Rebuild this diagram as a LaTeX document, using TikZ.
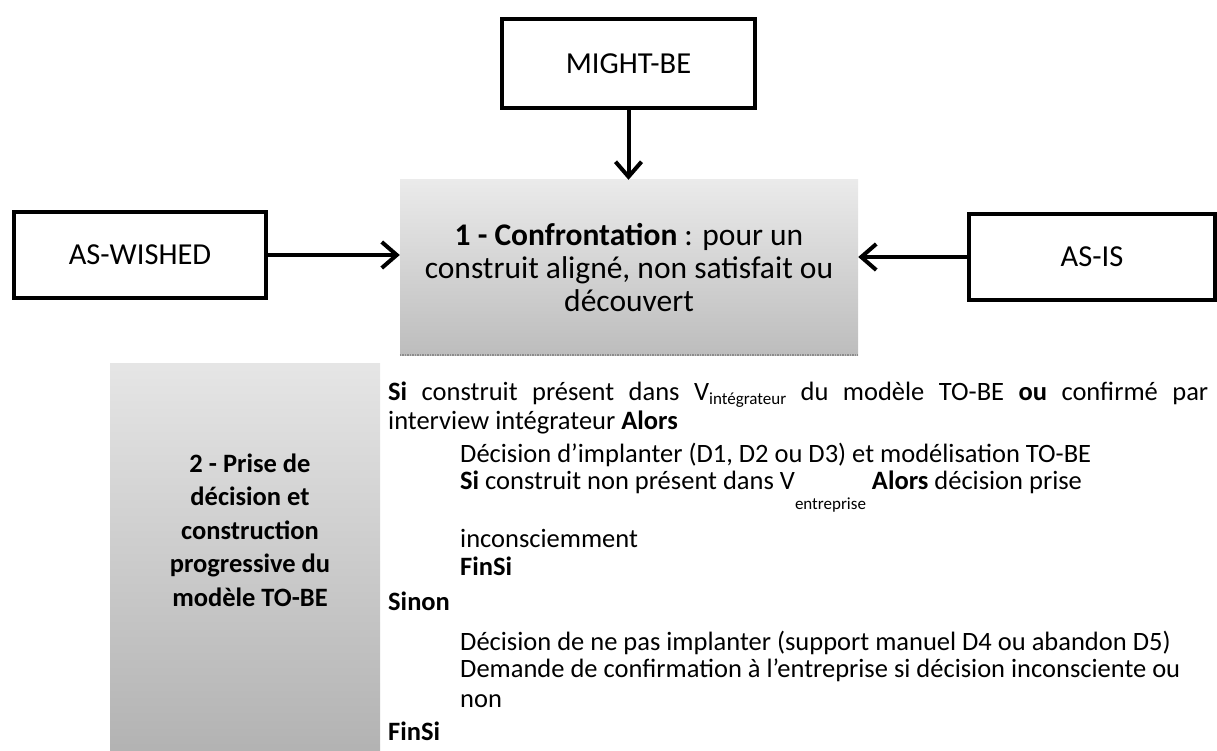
\documentclass[tikz,border=0pt]{standalone}
\usepackage{fontspec}
\setmainfont{Carlito}
\usetikzlibrary{arrows.meta}

\begin{document}
\begin{tikzpicture}[x=1pt, y=-1pt,
            view/.style = {draw, line width=4pt, inner sep=0pt, font=\fontsize{30.5}{33}\selectfont},
            stage/.style = {top color=black!8, bottom color=black!26, inner sep=0pt},
            link/.style = {line width=4pt, -{Straight Barb[length=15pt, width=26pt]}},
            algo/.style = {anchor=base west, inner sep=0pt, font=\fontsize{26.5}{30}\selectfont}]
            \useasboundingbox (0,0) rectangle (1217,751);

            \node[view, minimum width=253pt, minimum height=89pt] (MB) at (628.5,63.5) {MIGHT-BE};
            \node[view, minimum width=252pt, minimum height=86pt] (AW) at (140,255) {AS-WISHED};
            \node[view, minimum width=246pt, minimum height=86pt] (AI) at (1092,257) {AS-IS};

            \node[stage, minimum width=458pt, minimum height=175pt, align=center,
                  font=\fontsize{31.5}{33}\selectfont] (C1) at (629,267.5)
                  {\textbf{1 - Confrontation} : pour un\\construit aligné, non satisfait ou\\découvert};
            \draw[black!45, densely dotted, line width=1.5pt] (C1.south west) -- (C1.south east);

            \node[stage, top color=black!10, bottom color=black!30, minimum width=270pt, minimum height=388pt] (C2) at (245,557) {};
            \node[align=center, font=\bfseries\fontsize{26.5}{33.5}\selectfont] (C2t) at (250,530)
                  {2 - Prise de\\décision et\\construction\\progressive du\\modèle TO-BE};

            \path[link] (MB) edge (MB |- C1.north);
            \path[link] (AW) edge (AW -| C1.west);
            \path[link] (AI) edge (AI -| C1.east);

            \node[algo] (L1) at (388,400) {\makebox[820pt][s]{\textbf{Si} construit présent dans V\raisebox{-4pt}{\fontsize{17}{17}\selectfont intégrateur} du modèle TO-BE \textbf{ou} confirmé par}};
            \node[algo] (L2) at (388,429) {interview intégrateur \textbf{Alors}};
            \node[algo] (L3) at (460,462) {Décision d’implanter (D1, D2 ou D3) et modélisation TO-BE};
            \node[algo] (L4) at (460,489) {\textbf{Si} construit non présent dans V\raisebox{-20pt}{\fontsize{17}{17}\selectfont entreprise} \textbf{Alors} décision prise};
            \node[algo] (L5) at (460,547) {inconsciemment};
            \node[algo] (L6) at (460,575) {\textbf{FinSi}};
            \node[algo] (L7) at (388,610) {\textbf{Sinon}};
            \node[algo] (L8) at (460,650) {Décision de ne pas implanter (support manuel D4 ou abandon D5)};
            \node[algo] (L9) at (460,677) {Demande de confirmation à l’entreprise si décision inconsciente ou};
            \node[algo] (L10) at (460,707) {non};
            \node[algo] (L11) at (388,740) {\textbf{FinSi}};
\end{tikzpicture}
\end{document}
